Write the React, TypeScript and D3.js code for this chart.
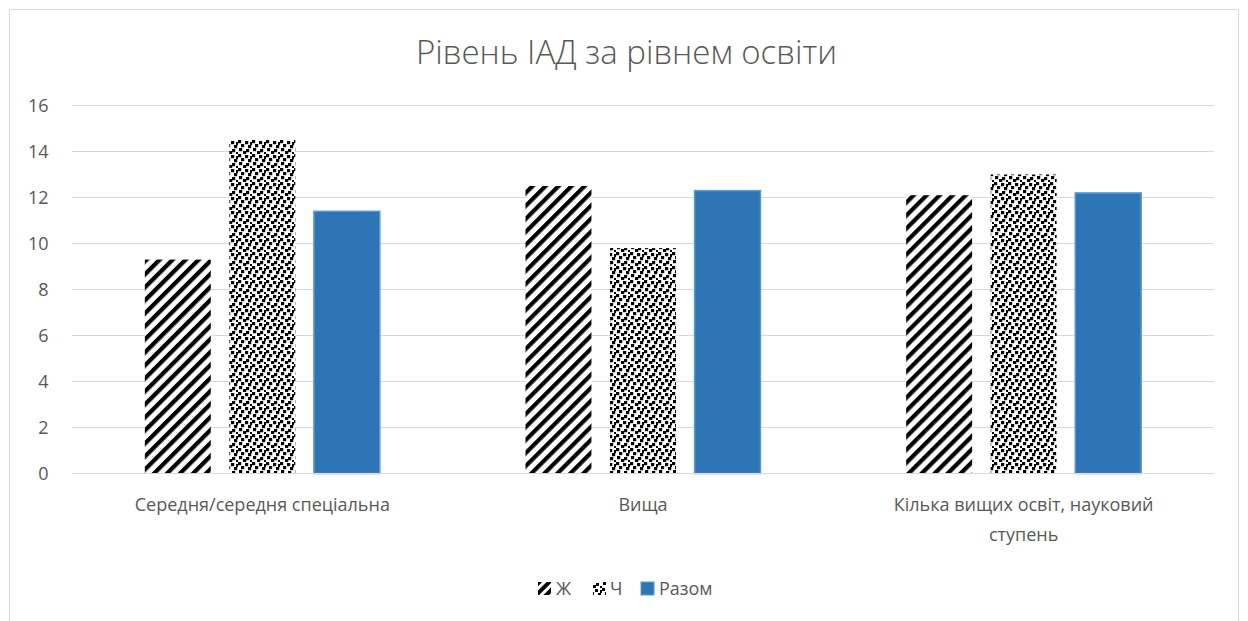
import React from "react";
import * as d3 from "d3";

const categories: string[][] = [
  ["Середня/середня спеціальна"],
  ["Вища"],
  ["Кілька вищих освіт, науковий", "ступень"],
];
const seriesNames = ["Ж", "Ч", "Разом"];
const valuesZh = [9.3, 12.5, 12.1];
const valuesCh = [14.5, 9.8, 13.0];
const valuesRazom = [11.4, 12.3, 12.2];
const yTicks = [0, 2, 4, 6, 8, 10, 12, 14, 16];
const title = "Рівень ІАД за рівнем освіти";

const W = 1248;
const H = 621;
const FONT = "'Open Sans', sans-serif";
const TXT = "#595959";

export default function App() {
  const left = 72;
  const right = 1214;
  const top = 105.5;
  const bottom = 473.5;
  const y = d3.scaleLinear().domain([0, 16]).range([bottom, top]);
  const x0 = d3
    .scaleBand<number>()
    .domain(categories.map((_, i) => i))
    .range([left, right])
    .padding(0);
  const groupW = 235;
  const x1 = d3
    .scaleBand<string>()
    .domain(seriesNames)
    .range([0, groupW])
    .paddingInner(0.22)
    .paddingOuter(0);
  const series = [valuesZh, valuesCh, valuesRazom];
  const fills = ["url(#stripes)", "url(#confetti)", "#2E75B6"];

  const confettiSquares = [
    [0, 0], [7, 1], [3, 4], [10, 5], [1, 8], [8, 9], [5, 11], [12, 12], [12, 2],
  ];

  const legendItems = [
    { name: "Ж", fill: "url(#stripesL)", sx: 538, tx: 556 },
    { name: "Ч", fill: "url(#confettiL)", sx: 593, tx: 610 },
    { name: "Разом", fill: "#2E75B6", sx: 641, tx: 659 },
  ];

  return (
    <svg width={W} height={H} style={{ position: "absolute", left: 0, top: 0, background: "#fff" }}>
      <defs>
        <pattern id="stripes" patternUnits="userSpaceOnUse" width={9.2} height={9.2} patternTransform="rotate(45)">
          <rect x={0} y={0} width={9.2} height={9.2} fill="#fff" />
          <rect x={0} y={0} width={4.2} height={9.2} fill="#000" />
        </pattern>
        <pattern id="stripesL" patternUnits="userSpaceOnUse" width={7} height={7} patternTransform="rotate(45)">
          <rect x={0} y={0} width={7} height={7} fill="#fff" />
          <rect x={0} y={0} width={4} height={7} fill="#000" />
        </pattern>
        <pattern id="confetti" patternUnits="userSpaceOnUse" width={14} height={14}>
          <rect x={0} y={0} width={14} height={14} fill="#fff" />
          {confettiSquares.map(([cx, cy], i) => (
            <rect key={i} x={cx} y={cy} width={3.2} height={3.2} fill="#000" />
          ))}
        </pattern>
        <pattern id="confettiL" patternUnits="userSpaceOnUse" width={14} height={14}>
          <rect x={0} y={0} width={14} height={14} fill="#fff" />
          {confettiSquares.map(([cx, cy], i) => (
            <rect key={i} x={cx} y={cy} width={3} height={3} fill="#000" />
          ))}
        </pattern>
      </defs>
      <rect x={9.5} y={9.5} width={1229} height={620} fill="#fff" stroke="#d9d9d9" strokeWidth={1} />
      <text x={626.5} y={64} textAnchor="middle" fontFamily={FONT} fontWeight={300} fontSize={33} fill={TXT}>
        {title}
      </text>
      {yTicks.map((t) => (
        <g key={t}>
          <line x1={left} x2={right} y1={y(t)} y2={y(t)} stroke="#d9d9d9" strokeWidth={1} />
          <text x={48.5} y={y(t) + 6.5} textAnchor="end" fontFamily={FONT} fontSize={18} fill={TXT}>
            {t}
          </text>
        </g>
      ))}
      {categories.map((_, ci) => {
        const gx = (x0(ci) as number) + (x0.bandwidth() - groupW) / 2;
        return (
          <g key={ci}>
            {seriesNames.map((s, si) => {
              const v = series[si][ci];
              const bx = gx + (x1(s) as number);
              return (
                <rect
                  key={s}
                  x={bx}
                  y={y(v)}
                  width={x1.bandwidth()}
                  height={y(0) - y(v)}
                  fill={fills[si]}
                  stroke={si === 2 ? "#5B9BD5" : "none"}
                  strokeWidth={si === 2 ? 1.5 : 0}
                />
              );
            })}
          </g>
        );
      })}
      <line x1={left} x2={right} y1={y(0)} y2={y(0)} stroke="#d9d9d9" strokeWidth={1} />
      {categories.map((lines, ci) => {
        const cx = (x0(ci) as number) + x0.bandwidth() / 2;
        return (
          <text key={ci} textAnchor="middle" fontFamily={FONT} fontSize={18} fill={TXT}>
            {lines.map((l, li) => (
              <tspan key={li} x={cx} y={511 + li * 30}>
                {l}
              </tspan>
            ))}
          </text>
        );
      })}
      {legendItems.map((it) => (
        <g key={it.name}>
          <rect
            x={it.sx}
            y={582}
            width={13}
            height={13}
            fill={it.fill}
            stroke={it.name === "Разом" ? "#5B9BD5" : "none"}
          />
          <text x={it.tx} y={595} fontFamily={FONT} fontSize={18} fill={TXT}>
            {it.name}
          </text>
        </g>
      ))}
    </svg>
  );
}
